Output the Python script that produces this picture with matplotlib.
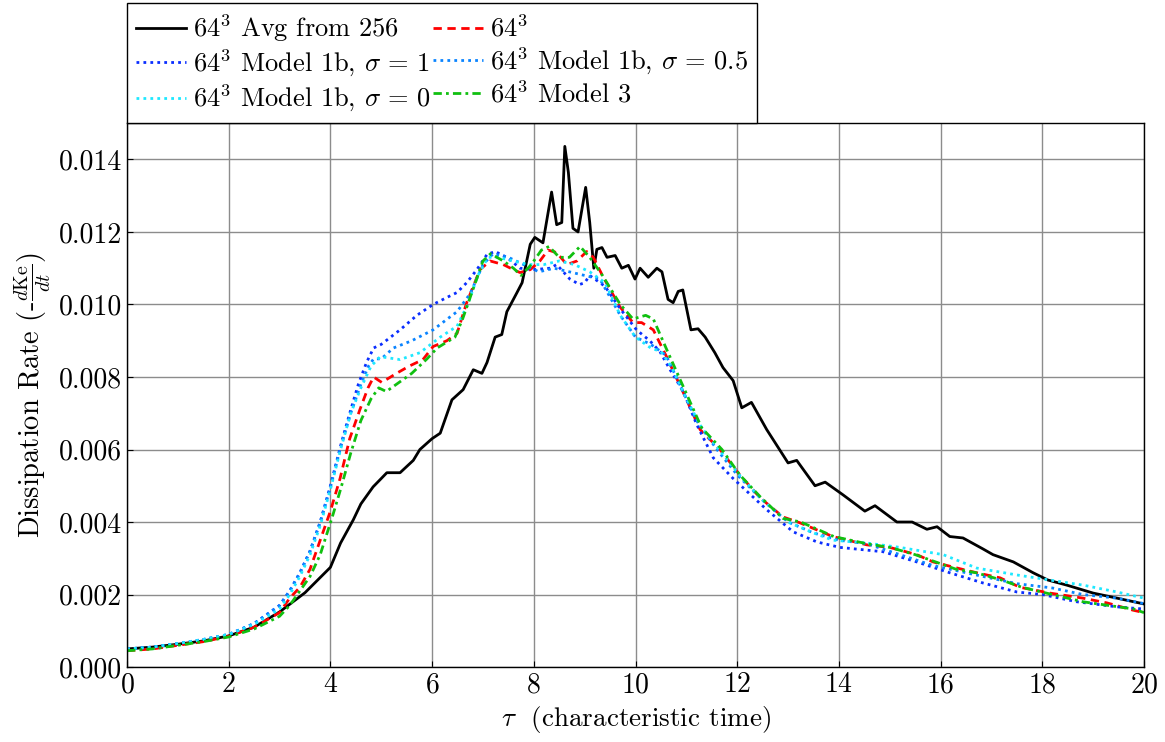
#!/usr/bin/env python3
import matplotlib
matplotlib.use("Agg")
import matplotlib.pyplot as plt
from matplotlib.ticker import FormatStrFormatter

plt.rcParams["font.family"] = "serif"
plt.rcParams["font.serif"] = ["cmr10", "DejaVu Serif"]
plt.rcParams["mathtext.fontset"] = "cm"
plt.rcParams["axes.formatter.use_mathtext"] = True

# 64^3 averaged from 256^3
t_avg = [0, 0.5, 1, 1.5, 2, 2.5, 3, 3.5, 4, 4.2, 4.45, 4.6, 4.84, 5.0, 5.11, 5.37,
         5.63, 5.76, 6.0, 6.16, 6.39, 6.61, 6.81, 6.98, 7.08, 7.24, 7.37, 7.47, 7.67,
         7.77, 7.93, 8.02, 8.18, 8.35, 8.45, 8.55, 8.61, 8.68, 8.77, 8.87, 9.02, 9.10,
         9.18, 9.24, 9.34, 9.44, 9.60, 9.73, 9.86, 9.99, 10.09, 10.25, 10.42, 10.52,
         10.64, 10.74, 10.84, 10.93, 11.09, 11.23, 11.37, 11.56, 11.72, 11.92, 12.09,
         12.28, 12.58, 13.0, 13.17, 13.53, 13.73, 14.08, 14.51, 14.71, 15.14, 15.44,
         15.73, 15.93, 16.18, 16.44, 16.83, 17.03, 17.43, 17.82, 18.11, 18.48, 19.0,
         19.47, 20]
d_avg = [0.00050, 0.00055, 0.00063, 0.00072, 0.00086, 0.00110, 0.00152, 0.00205,
         0.00275, 0.00342, 0.00406, 0.00450, 0.00497, 0.00520, 0.00536, 0.00536,
         0.00570, 0.00600, 0.00630, 0.00645, 0.00737, 0.00765, 0.00820, 0.00810,
         0.00840, 0.00910, 0.00917, 0.00980, 0.01033, 0.01060, 0.01166, 0.01185,
         0.01170, 0.01310, 0.01220, 0.01226, 0.01436, 0.01364, 0.01210, 0.01200,
         0.01323, 0.01226, 0.01100, 0.01152, 0.01157, 0.01130, 0.01135, 0.01100,
         0.01108, 0.01070, 0.01100, 0.01075, 0.01100, 0.01090, 0.01014, 0.01005,
         0.01036, 0.01040, 0.00930, 0.00933, 0.00910, 0.00867, 0.00826, 0.00790,
         0.00715, 0.00730, 0.00655, 0.00563, 0.00570, 0.00500, 0.00510, 0.00475,
         0.00430, 0.00445, 0.00400, 0.00400, 0.00380, 0.00387, 0.00360, 0.00356,
         0.00326, 0.00310, 0.00290, 0.00260, 0.00240, 0.00226, 0.00204, 0.00190,
         0.00174]

# 64^3 no model
t_64 = [0, 0.5, 1, 1.5, 2, 2.5, 3, 3.2, 3.4, 3.6, 3.8, 4.0, 4.19, 4.38, 4.58, 4.74,
        4.85, 5.01, 5.3, 5.55, 5.82, 6.02, 6.29, 6.49, 6.68, 6.81, 6.94, 7.14, 7.4,
        7.6, 7.73, 7.93, 8.12, 8.28, 8.45, 8.65, 8.85, 9.04, 9.17, 9.36, 9.69, 9.95,
        10.12, 10.35, 10.61, 10.94, 11.27, 11.66, 12.05, 12.45, 12.9, 13.23, 13.88,
        14.55, 15.0, 15.53, 15.85, 16.24, 16.71, 17.17, 17.56, 18.15, 18.8, 19.27,
        19.78, 20]
d_64 = [0.00045, 0.00050, 0.00060, 0.00070, 0.00085, 0.00110, 0.00150, 0.00190,
        0.00220, 0.00270, 0.00350, 0.00430, 0.00520, 0.00630, 0.00710, 0.00770,
        0.00800, 0.00785, 0.00810, 0.00830, 0.00848, 0.00884, 0.00900, 0.00920,
        0.01005, 0.01050, 0.01096, 0.01120, 0.01110, 0.01096, 0.01088, 0.01096,
        0.01120, 0.01150, 0.01143, 0.01110, 0.01120, 0.01146, 0.01130, 0.01077,
        0.00994, 0.00950, 0.00950, 0.00930, 0.00856, 0.00757, 0.00655, 0.00600,
        0.00530, 0.00467, 0.00414, 0.00398, 0.00360, 0.00337, 0.00330, 0.00310,
        0.00290, 0.00276, 0.00260, 0.00246, 0.00220, 0.00204, 0.00190, 0.00177,
        0.00157, 0.00150]

# Model 1b, sigma = 1
t_s1 = [0, 0.5, 1, 1.5, 2, 2.5, 3, 3.2, 3.4, 3.6, 3.8, 4.0, 4.2, 4.38, 4.55, 4.71,
        4.85, 5.0, 5.37, 5.7, 6.02, 6.3, 6.49, 6.68, 6.88, 7.08, 7.24, 7.47, 7.73,
        7.99, 8.32, 8.45, 8.71, 8.9, 9.0, 9.1, 9.4, 9.69, 10.02, 10.28, 10.48, 10.68,
        10.94, 11.2, 11.53, 11.92, 12.58, 13.1, 13.57, 14.02, 14.87, 15.53, 16.18,
        16.83, 17.5, 18.0, 18.68, 19.47, 20]
d_s1 = [0.00050, 0.00055, 0.00065, 0.00076, 0.00090, 0.00120, 0.00170, 0.00210,
        0.00260, 0.00320, 0.00400, 0.00500, 0.00610, 0.00700, 0.00780, 0.00840,
        0.00880, 0.00890, 0.00930, 0.00970, 0.01000, 0.01020, 0.01033, 0.01060,
        0.01096, 0.01138, 0.01146, 0.01130, 0.01100, 0.01096, 0.01100, 0.01110,
        0.01070, 0.01055, 0.01060, 0.01080, 0.01050, 0.00990, 0.00930, 0.00900,
        0.00870, 0.00820, 0.00760, 0.00670, 0.00577, 0.00520, 0.00434, 0.00373,
        0.00345, 0.00330, 0.00318, 0.00290, 0.00260, 0.00232, 0.00207, 0.00200,
        0.00180, 0.00166, 0.00160]

# Model 1b, sigma = 0.5
t_s05 = [0, 0.5, 1, 1.5, 2, 2.5, 3, 3.2, 3.4, 3.6, 3.8, 4.0, 4.2, 4.4, 4.6, 4.75,
         4.85, 5.0, 5.24, 5.6, 6.02, 6.3, 6.49, 6.75, 7.0, 7.2, 7.5, 7.8, 8.1, 8.4,
         8.7, 9.0, 9.3, 9.7, 10.0, 10.3, 10.6, 10.9, 11.2, 11.6, 12.0, 12.5, 13.0,
         13.5, 14.0, 14.55, 15.2, 15.85, 16.83, 17.5, 18.2, 18.8, 19.47, 20]
d_s05 = [0.00050, 0.00055, 0.00065, 0.00076, 0.00090, 0.00120, 0.00170, 0.00210,
         0.00260, 0.00320, 0.00400, 0.00495, 0.00605, 0.00700, 0.00780, 0.00830,
         0.00850, 0.00850, 0.00880, 0.00900, 0.00930, 0.00960, 0.00980, 0.01030,
         0.01110, 0.01140, 0.01130, 0.01110, 0.01090, 0.01100, 0.01090, 0.01080,
         0.01070, 0.00970, 0.00910, 0.00890, 0.00860, 0.00770, 0.00680, 0.00600,
         0.00530, 0.00460, 0.00400, 0.00370, 0.00350, 0.00340, 0.00310, 0.00280,
         0.00250, 0.00230, 0.00218, 0.00200, 0.00190, 0.00175]

# Model 1b, sigma = 0
t_s0 = [0, 0.5, 1, 1.5, 2, 2.5, 3, 3.2, 3.4, 3.6, 3.8, 4.0, 4.2, 4.4, 4.6, 4.8,
        4.98, 5.37, 5.76, 6.16, 6.49, 6.7, 6.9, 7.1, 7.3, 7.6, 7.9, 8.2, 8.5, 8.8,
        9.1, 9.4, 9.7, 10.0, 10.3, 10.5, 10.7, 11.0, 11.3, 11.7, 12.1, 12.5, 13.0,
        13.5, 13.88, 14.55, 15.2, 16.05, 16.71, 17.5, 18.15, 18.8, 19.47, 20]
d_s0 = [0.00050, 0.00055, 0.00065, 0.00076, 0.00090, 0.00118, 0.00160, 0.00200,
        0.00250, 0.00310, 0.00390, 0.00490, 0.00600, 0.00700, 0.00770, 0.00830,
        0.00856, 0.00848, 0.00867, 0.00910, 0.00940, 0.01000, 0.01080, 0.01130,
        0.01130, 0.01120, 0.01110, 0.01110, 0.01120, 0.01110, 0.01090, 0.01060,
        0.00970, 0.00910, 0.00880, 0.00870, 0.00830, 0.00740, 0.00660, 0.00590,
        0.00520, 0.00460, 0.00400, 0.00370, 0.00350, 0.00342, 0.00330, 0.00310,
        0.00273, 0.00254, 0.00240, 0.00226, 0.00207, 0.00190]

# Model 3
t_m3 = [0, 0.5, 1, 1.5, 2, 2.5, 3, 3.2, 3.4, 3.6, 3.8, 4.05, 4.2, 4.4, 4.6, 4.8,
        4.95, 5.1, 5.3, 5.6, 5.9, 6.1, 6.45, 6.6, 6.8, 7.0, 7.15, 7.4, 7.6, 7.75,
        7.95, 8.15, 8.3, 8.5, 8.7, 8.91, 9.1, 9.35, 9.7, 9.95, 10.2, 10.35, 10.6,
        10.95, 11.3, 11.7, 12.05, 12.45, 12.9, 13.25, 13.9, 14.55, 15.0, 15.5, 15.9,
        16.3, 16.7, 17.2, 17.6, 18.2, 18.8, 19.3, 19.8, 20]
d_m3 = [0.00045, 0.00050, 0.00060, 0.00070, 0.00083, 0.00105, 0.00140, 0.00170,
        0.00210, 0.00250, 0.00310, 0.00420, 0.00490, 0.00590, 0.00680, 0.00740,
        0.00770, 0.00760, 0.00780, 0.00810, 0.00850, 0.00880, 0.00910, 0.00960,
        0.01040, 0.01120, 0.01140, 0.01120, 0.01100, 0.01080, 0.01110, 0.01150,
        0.01160, 0.01130, 0.01130, 0.01160, 0.01130, 0.01080, 0.01000, 0.00960,
        0.00970, 0.00960, 0.00880, 0.00770, 0.00660, 0.00600, 0.00530, 0.00470,
        0.00410, 0.00400, 0.00360, 0.00340, 0.00330, 0.00310, 0.00290, 0.00270,
        0.00260, 0.00240, 0.00220, 0.00200, 0.00180, 0.00170, 0.00160, 0.00150]

fig = plt.figure(figsize=(11.65, 7.42), dpi=100)
ax = fig.add_axes([0.109, 0.101, 0.873, 0.733])

h_avg, = ax.plot(t_avg, d_avg, color="black", lw=2.0,
                 label=r"$64^3$ Avg from 256")
h_64, = ax.plot(t_64, d_64, color="red", lw=2.0, linestyle=(0, (3, 2)),
                label=r"$64^3$")
h_s1, = ax.plot(t_s1, d_s1, color="#0a2eff", lw=2.0, linestyle=(0, (1, 1.5)),
                label=r"$64^3$ Model 1b, $\sigma\,=\,1$")
h_s05, = ax.plot(t_s05, d_s05, color="#0a84ff", lw=2.0, linestyle=(0, (1, 1.5)),
                 label=r"$64^3$ Model 1b, $\sigma\,=\,0.5$")
h_s0, = ax.plot(t_s0, d_s0, color="#1ee8ff", lw=2.0, linestyle=(0, (1, 1.5)),
                label=r"$64^3$ Model 1b, $\sigma\,=\,0$")
h_m3, = ax.plot(t_m3, d_m3, color="#10c010", lw=2.0,
                linestyle=(0, (3, 1.5, 1, 1.5)), label=r"$64^3$ Model 3")

ax.set_xlim(0, 20)
ax.set_ylim(0, 0.015)
ax.set_xticks(range(0, 21, 2))
ax.set_yticks([0.002 * i for i in range(8)])
ax.yaxis.set_major_formatter(FormatStrFormatter("%.3f"))
ax.tick_params(direction="in", labelsize=20, length=4)
ax.grid(color="#8c8c8c", lw=1.0)
for s in ax.spines.values():
    s.set_linewidth(1.0)

ax.set_xlabel(r"$\tau$  (characteristic time)", fontsize=19.5, labelpad=4)
ax.set_ylabel(r"Dissipation Rate (-$\frac{d\mathrm{Ke}}{dt}$)", fontsize=20.5,
              labelpad=4)

# column-major order so rows read: avg/64, s1/s05, s0/m3
handles = [h_avg, h_s1, h_s0, h_64, h_s05, h_m3]
leg = ax.legend(handles=handles, ncol=2, loc="lower left",
                bbox_to_anchor=(0, 1.0), borderaxespad=0, fontsize=19,
                fancybox=False, framealpha=1, edgecolor="black",
                handlelength=1.9, handletextpad=0.25, columnspacing=0.1,
                labelspacing=0.15, borderpad=0.35)
leg.get_frame().set_linewidth(1.0)

fig.savefig("out.png", dpi=100)
